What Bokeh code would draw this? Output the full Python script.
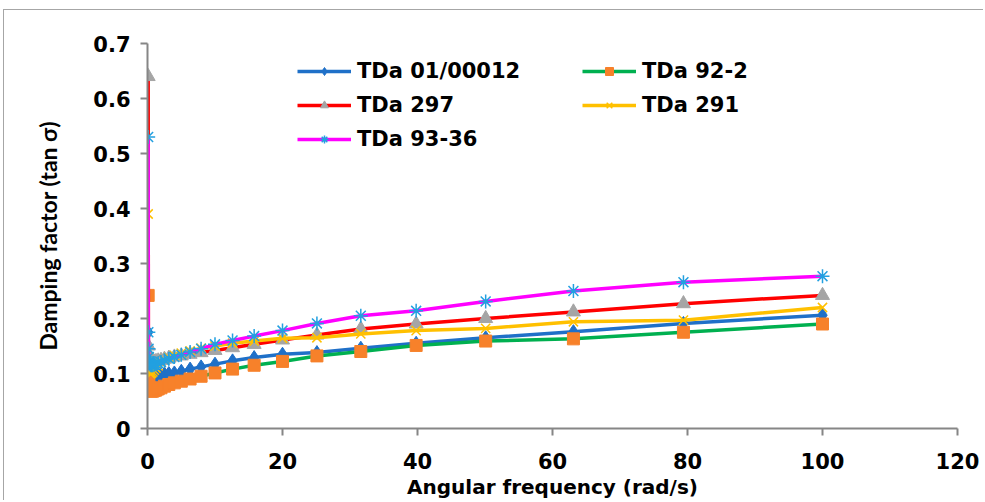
from bokeh.plotting import figure
from bokeh.models import Legend, LegendItem, Range1d, FixedTicker
from bokeh.embed import file_html
from bokeh.resources import INLINE

freq = [0.1, 0.126, 0.158, 0.2, 0.251, 0.316, 0.398, 0.501, 0.631, 0.794,
        1.0, 1.26, 1.58, 2.0, 2.51, 3.16, 3.98, 5.01, 6.31, 7.94,
        10.0, 12.6, 15.8, 20.0, 25.1, 31.6, 39.8, 50.1, 63.1, 79.4, 100.0]

tda_01_00012 = [0.175, 0.150, 0.132, 0.120, 0.112, 0.106, 0.102, 0.099, 0.097, 0.096,
                0.096, 0.096, 0.097, 0.098, 0.099, 0.100, 0.101, 0.104, 0.108, 0.112,
                0.117, 0.123, 0.129, 0.135, 0.138, 0.146, 0.155, 0.165, 0.176, 0.191, 0.206]
tda_92_2 = [0.242, 0.120, 0.095, 0.082, 0.075, 0.071, 0.069, 0.068, 0.068, 0.068,
            0.069, 0.070, 0.072, 0.074, 0.077, 0.080, 0.083, 0.086, 0.090, 0.095,
            0.101, 0.108, 0.115, 0.122, 0.132, 0.140, 0.151, 0.159, 0.163, 0.175, 0.190]
tda_297 = [0.640, 0.150, 0.135, 0.128, 0.124, 0.122, 0.121, 0.120, 0.120, 0.120,
           0.121, 0.122, 0.123, 0.124, 0.126, 0.128, 0.130, 0.132, 0.135, 0.138,
           0.142, 0.147, 0.153, 0.161, 0.170, 0.181, 0.190, 0.200, 0.212, 0.227, 0.242]
tda_291 = [0.390, 0.130, 0.115, 0.108, 0.104, 0.101, 0.100, 0.100, 0.101, 0.103,
           0.106, 0.110, 0.114, 0.120, 0.125, 0.129, 0.133, 0.137, 0.141, 0.146,
           0.150, 0.155, 0.159, 0.164, 0.165, 0.172, 0.178, 0.182, 0.194, 0.197, 0.220]
tda_93_36 = [0.530, 0.175, 0.145, 0.130, 0.122, 0.118, 0.116, 0.115, 0.115, 0.115,
             0.116, 0.117, 0.119, 0.121, 0.124, 0.127, 0.130, 0.134, 0.139, 0.145,
             0.153, 0.160, 0.168, 0.178, 0.191, 0.205, 0.214, 0.231, 0.250, 0.266, 0.277]

series_names = ["TDa 01/00012", "TDa 92-2", "TDa 297", "TDa 291", "TDa 93-36"]
x_ticks = [0, 20, 40, 60, 80, 100, 120]
y_ticks = [0, 0.1, 0.2, 0.3, 0.4, 0.5, 0.6, 0.7]

FONT = "DejaVu Sans"

p = figure(width=980, height=491, output_backend="svg", toolbar_location=None,
           x_range=Range1d(0, 120), y_range=Range1d(0, 0.7),
           min_border_left=143, min_border_right=27, min_border_top=33,
           min_border_bottom=72)
p.margin = (9, 0, 0, 3)
p.outline_line_color = None
p.xgrid.visible = False
p.ygrid.visible = False
p.background_fill_color = "white"
p.border_fill_color = "white"
p.styles = {"border-top": "1px solid #a6a6a6", "border-left": "1px solid #a6a6a6"}

for ax in (p.xaxis[0], p.yaxis[0]):
    ax.axis_line_color = "#868686"
    ax.axis_line_width = 2
    ax.major_tick_line_color = "#868686"
    ax.major_tick_line_width = 2
    ax.major_tick_out = 7
    ax.major_tick_in = 0
    ax.minor_tick_line_color = None
    ax.major_label_text_font = FONT
    ax.major_label_text_font_style = "bold"
    ax.major_label_text_font_size = "21px"
    ax.major_label_text_color = "black"

p.xaxis.ticker = FixedTicker(ticks=x_ticks)
p.yaxis.ticker = FixedTicker(ticks=y_ticks)
p.xaxis.major_label_standoff = 17
p.yaxis.major_label_standoff = 10

p.yaxis.axis_label = "Damping factor (tan σ)"
p.yaxis.axis_label_text_font = "Lato"
p.yaxis.axis_label_text_font_style = "bold"
p.yaxis.axis_label_text_font_size = "23px"
p.yaxis.axis_label_text_color = "black"
p.yaxis.axis_label_standoff = 28

p.xaxis.axis_label = "Angular frequency (rad/s)"
p.xaxis.axis_label_text_font = FONT
p.xaxis.axis_label_text_font_style = "bold"
p.xaxis.axis_label_text_font_size = "20px"
p.xaxis.axis_label_text_color = "black"
p.xaxis.axis_label_standoff = 3

styles = [
    (tda_01_00012, "#1F70C8", "diamond", "#1F70C8", "#1F70C8", 14),
    (tda_92_2, "#00B050", "square", "#F7812A", "#F7812A", 12),
    (tda_297, "#FF0000", "triangle", "#A5A5A5", "#A5A5A5", 14),
    (tda_291, "#FFC000", "x", None, "#FFC000", 13),
    (tda_93_36, "#FF00FF", "asterisk", None, "#22A0E0", 14),
]

items = []
for (vals, lc, mk, fc, mc, sz), name in zip(styles, series_names):
    lr = p.line(freq, vals, line_color=lc, line_width=3.5)
    sr = p.scatter(freq, vals, marker=mk, size=sz, fill_color=fc, line_color=mc,
                   line_width=1.5 if mk in ("x", "asterisk") else 1)
    items.append(LegendItem(label=name, renderers=[lr, sr]))

def make_legend(its, loc):
    lg = Legend(items=its, location=loc, orientation="vertical",
                glyph_width=54, glyph_height=20, label_height=20,
                label_standoff=6, spacing=10, padding=0, margin=0,
                label_text_font=FONT, label_text_font_style="bold",
                label_text_font_size="21px", label_text_color="black",
                border_line_color=None, background_fill_alpha=0)
    return lg

leg1 = make_legend([items[0], items[2], items[4]], (150, 277))
leg2 = make_legend([items[1], items[3]], (435, 311))
p.add_layout(leg1, "center")
p.add_layout(leg2, "center")

open("out.html", "w").write(file_html(p, INLINE))
